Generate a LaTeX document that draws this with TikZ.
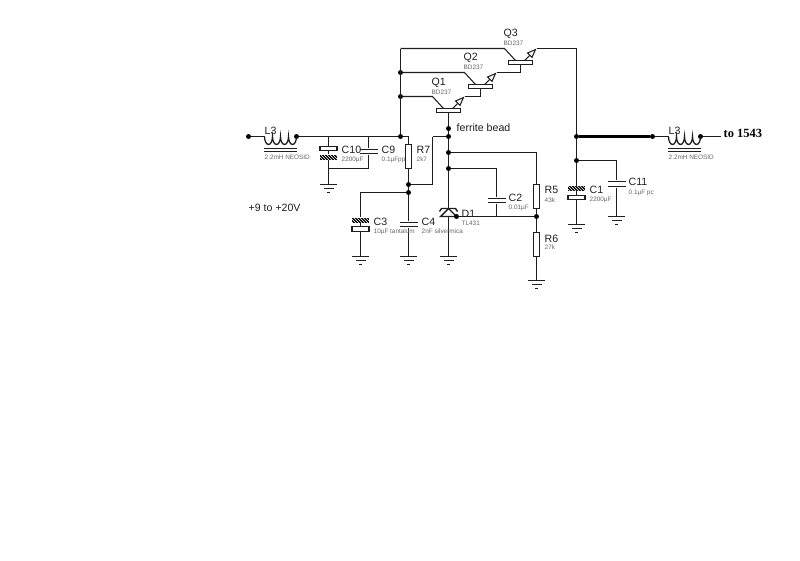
\documentclass[tikz,border=0pt]{standalone}
\usepackage{fontspec}
\setmainfont{Liberation Sans}
\newfontfamily\serifb[BoldFont={Liberation Serif Bold}]{Liberation Serif}
\usetikzlibrary{patterns,arrows.meta}
\definecolor{ink}{HTML}{1E1E1E}
\definecolor{soft}{HTML}{666666}
\tikzset{
  x=1pt,y=-1pt,
  wire/.style={draw=ink,line width=1.05pt},
  thick wire/.style={draw=black,line width=2.1pt},
  jn/.style={circle,fill=black,inner sep=0pt,minimum size=5pt},
  res/.style={draw=ink,line width=1.05pt,fill=white,inner sep=0pt,minimum width=6.5pt,minimum height=24pt},
  plate/.style={fill=ink,inner sep=0pt,minimum width=18pt,minimum height=1.8pt},
  openplate/.style={draw=ink,line width=1.05pt,fill=white,inner sep=0pt,minimum width=17pt,minimum height=4.2pt},
  hatchplate/.style={inner sep=0pt,minimum width=17.5pt,minimum height=5pt,preaction={fill=black},pattern=north west lines,pattern color=white},
  bjtbar/.style={draw=ink,line width=1.05pt,fill=white,inner sep=0pt,minimum width=24pt,minimum height=4pt},
  gndtop/.style={fill=ink,inner sep=0pt,minimum width=17pt,minimum height=1.4pt},
  gndmid/.style={fill=ink,inner sep=0pt,minimum width=10pt,minimum height=1.2pt},
  gndlow/.style={fill=ink,inner sep=0pt,minimum width=3.5pt,minimum height=1.4pt},
  big/.style={anchor=west,inner sep=0pt,text=ink,font=\fontsize{10.6}{11}\selectfont},
  small/.style={anchor=west,inner sep=0pt,text=soft,font=\fontsize{6.4}{7}\selectfont},
  corebar/.style={fill=ink,inner sep=0pt,minimum width=33pt,minimum height=1.1pt},
  emit/.style={-{Triangle[open,fill=white,length=10pt,width=7.5pt,line width=1.05pt]},draw=ink,line width=1.05pt},
  coilline/.style={draw=ink,line width=1.3pt}
}
\newcommand{\gndsym}[3]{%
  \node[gndtop] (#1) at (#2,#3) {};
  \node[gndmid] (#1m) at (#2,#3+4) {};
  \node[gndlow] (#1l) at (#2,#3+8) {};
}
\newcommand{\coilsym}[2]{%
  \draw[coilline] (#1,#2) arc[start angle=180,end angle=0,x radius=4,y radius=8]
    arc[start angle=180,end angle=0,x radius=4,y radius=8]
    arc[start angle=180,end angle=0,x radius=4,y radius=8]
    arc[start angle=180,end angle=0,x radius=4,y radius=8];
  \node[corebar] at (#1+16,#2+12) {};
  \node[corebar] at (#1+16,#2+15) {};
}
\begin{document}
\begin{tikzpicture}
\useasboundingbox (-0.5,-0.5) rectangle (799.5,559.5);
% junctions
\node[jn] (jA) at (400,72) {};
\node[jn] (jB) at (400,96) {};
\node[jn] (jC) at (400,136) {};
\node[jn] (jD) at (448,128) {};
\node[jn] (jE) at (448,136) {};
\node[jn] (jF) at (448,152) {};
\node[jn] (jG) at (448,168) {};
\node[jn] (jH) at (408,184) {};
\node[jn] (jI) at (408,192) {};
\node[jn] (jK) at (576,136) {};
\node[jn] (jL) at (576,160) {};
\node[jn] (jM) at (536,216) {};
\node[jn] (l1a) at (248,136) {};
\node[jn] (l1b) at (296,136) {};
\node[jn] (l2a) at (652,136) {};
\node[jn] (l2b) at (700,136) {};
\coordinate (l1c) at (264,136);
\coordinate (l2c) at (668,136);
\coordinate (out) at (720,136);
\coordinate (tl) at (400,48);
\coordinate (tr) at (576,48);
\coordinate (r7t) at (408,136);
\coordinate (c9t) at (368,136);
\coordinate (c10t) at (328,136);
\coordinate (c10b) at (328,168);
\coordinate (c9b) at (368,168);
\coordinate (k1) at (432,136);
\coordinate (k2) at (432,184);
\coordinate (c3t) at (360,192);
\coordinate (f1) at (536,152);
\coordinate (c2t) at (496,168);
\coordinate (c2b) at (496,216);
\coordinate (c11t) at (616,160);
% wires
\draw[wire] (tl) -- (jC);
\draw[wire] (tr) -- (jK);
\draw[wire] (l1a) -- (l1c);
\draw[wire] (l1b) -- (jC);
\draw[wire] (jC) -- (r7t);
\draw[wire] (l2c) -- (l2a);
\draw[wire] (l2b) -- (out);
\draw[thick wire] (jK) -- (l2a);
\draw[wire] (jK) -- (jL);
% transistors
\coordinate (q1c) at (432,96);
\coordinate (q1e) at (464,96);
\coordinate (q2c) at (464,72);
\coordinate (q2e) at (496,72);
\coordinate (q3c) at (504,48);
\coordinate (q3e) at (536,48);
\coordinate (q2b) at (480,96);
\coordinate (q3b) at (520,72);
\coordinate (q1k) at (443,108);
\coordinate (q1f) at (452,108);
\coordinate (q2k) at (475,84);
\coordinate (q2f) at (484,84);
\coordinate (q3k) at (515,60);
\coordinate (q3f) at (524,60);
\draw[wire] (tl) -- (q3c) -- (q3k);
\draw[emit] (q3f) -- (q3e);
\draw[wire] (q3e) -- (tr);
\draw[wire] (jA) -- (q2c) -- (q2k);
\draw[emit] (q2f) -- (q2e);
\draw[wire] (q2e) -- (q3b);
\draw[wire] (jB) -- (q1c) -- (q1k);
\draw[emit] (q1f) -- (q1e);
\draw[wire] (q1e) -- (q2b);
\node[bjtbar] (q1) at (448,110) {};
\node[bjtbar] (q2) at (480,86) {};
\node[bjtbar] (q3) at (520,62) {};
\draw[wire] (q3b) -- (q3.south);
\draw[wire] (q2b) -- (q2.south);
\draw[wire] (q1.south) -- (jD);
\draw[wire] (jD) -- (jE) -- (jF) -- (jG);
\draw[wire] (k1) -- (jE);
\draw[wire] (k1) -- (k2) -- (jH);
% R7
\node[res] (r7) at (408,156) {};
\draw[wire] (r7t) -- (r7.north);
\draw[wire] (r7.south) -- (jH);
\draw[wire] (jH) -- (jI);
% C10 / C9
\node[openplate] (c10a) at (328,148) {};
\node[hatchplate] (c10h) at (328,156.5) {};
\draw[wire] (c10t) -- (c10a.north);
\draw[wire] (c10a.south) -- (c10h.north);
\draw[wire] (c10h.south) -- (c10b);
\node[plate] (c9p) at (368,149) {};
\node[plate] (c9q) at (368,153) {};
\draw[wire] (c9t) -- (c9p);
\draw[wire] (c9q) -- (c9b) -- (c10b);
\gndsym{g1}{328}{184}
\draw[wire] (c10b) -- (g1);
% C3
\node[hatchplate] (c3h) at (360,219.5) {};
\node[openplate] (c3o) at (360,228.5) {};
\gndsym{g2}{360}{256}
\draw[wire] (jI) -- (c3t) -- (c3h.north);
\draw[wire] (c3h.south) -- (c3o.north);
\draw[wire] (c3o.south) -- (g2);
% C4
\node[plate] (c4p) at (408,222) {};
\node[plate] (c4q) at (408,226) {};
\gndsym{g3}{408}{256}
\draw[wire] (jI) -- (c4p);
\draw[wire] (c4q) -- (g3);
% D1
\gndsym{g4}{448}{256}
\coordinate (d1a) at (448,208);
\coordinate (d1l) at (440,216);
\coordinate (d1r) at (456,216);
\coordinate (d1m) at (448,216);
\draw[wire] (jG) -- (d1a);
\draw[wire,line width=1.4pt] (d1l) -- (d1a) -- (d1r) -- cycle;
\draw[wire,line width=1.4pt] (439,211) -- (441,208) -- (455,208) -- (457,211);
\draw[wire] (d1m) -- (g4);
\node[jn] (d1g) at (456,216) {};
\draw[wire] (d1g) -- (jM);
% C2
\node[plate] (c2p) at (496,198) {};
\node[plate] (c2q) at (496,202) {};
\draw[wire] (jG) -- (c2t) -- (c2p);
\draw[wire] (c2q) -- (c2b);
% R5 R6
\node[res] (r5) at (536,196) {};
\node[res] (r6) at (536,244) {};
\gndsym{g5}{536}{280}
\draw[wire] (jF) -- (f1) -- (r5.north);
\draw[wire] (r5.south) -- (jM);
\draw[wire] (jM) -- (r6.north);
\draw[wire] (r6.south) -- (g5);
% C1
\node[hatchplate] (c1h) at (576,188) {};
\node[openplate] (c1o) at (576,197) {};
\gndsym{g6}{576}{224}
\draw[wire] (jL) -- (c1h.north);
\draw[wire] (c1h.south) -- (c1o.north);
\draw[wire] (c1o.south) -- (g6);
% C11
\node[plate] (c11p) at (616,181) {};
\node[plate] (c11q) at (616,186) {};
\gndsym{g7}{616}{216}
\draw[wire] (jL) -- (c11t) -- (c11p);
\draw[wire] (c11q) -- (g7);
% inductors
\coilsym{264}{136}
\coilsym{668}{136}
% labels
\node[big] (tq3) at (503,33) {Q3};
\node[small] (sq3) at (503,43) {BD237};
\node[big] (tq2) at (463,57) {Q2};
\node[small] (sq2) at (463,67) {BD237};
\node[big] (tq1) at (431,82) {Q1};
\node[small] (sq1) at (431,92) {BD237};
\node[big] (tfb) at (456,127) {ferrite bead};
\node[big] (tl1) at (264,130) {L3};
\node[small] (sl1) at (264,156.5) {2.2mH NEOSID};
\node[big] (tc10) at (341,149) {C10};
\node[small] (sc10) at (341,159) {2200µF};
\node[big] (tc9) at (381,149) {C9};
\node[small] (sc9) at (381,159) {0.1µFpp};
\node[big] (tr7) at (416,149) {R7};
\node[small] (sr7) at (416,159) {2k7};
\node[big] (tv) at (248,207) {+9 to +20V};
\node[big] (tc3) at (373,221) {C3};
\node[small] (sc3) at (373,231) {10µF tantalum};
\node[big] (tc4) at (421,221) {C4};
\node[small] (sc4) at (421,231) {2nF silvermica};
\node[big] (td1) at (461,213) {D1};
\node[small] (sd1) at (461,223) {TL431};
\node[big] (tc2) at (508,197) {C2};
\node[small] (sc2) at (508,207) {0.01µF};
\node[big] (tr5) at (544,189) {R5};
\node[small] (sr5) at (544,200) {43k};
\node[big] (tr6) at (544,238) {R6};
\node[small] (sr6) at (544,247) {27k};
\node[big] (tc1) at (589,189) {C1};
\node[small] (sc1) at (589,199) {2200µF};
\node[big] (tc11) at (628,181) {C11};
\node[small] (sc11) at (628,192) {0.1µF pc};
\node[big] (tl2) at (668,130) {L3};
\node[small] (sl2) at (668,157) {2.2mH NEOSID};
\node[anchor=west,inner sep=0pt,text=black,font=\serifb\bfseries\fontsize{12.5}{13}\selectfont] (tto) at (723,133) {to 1543};
\end{tikzpicture}
\end{document}
